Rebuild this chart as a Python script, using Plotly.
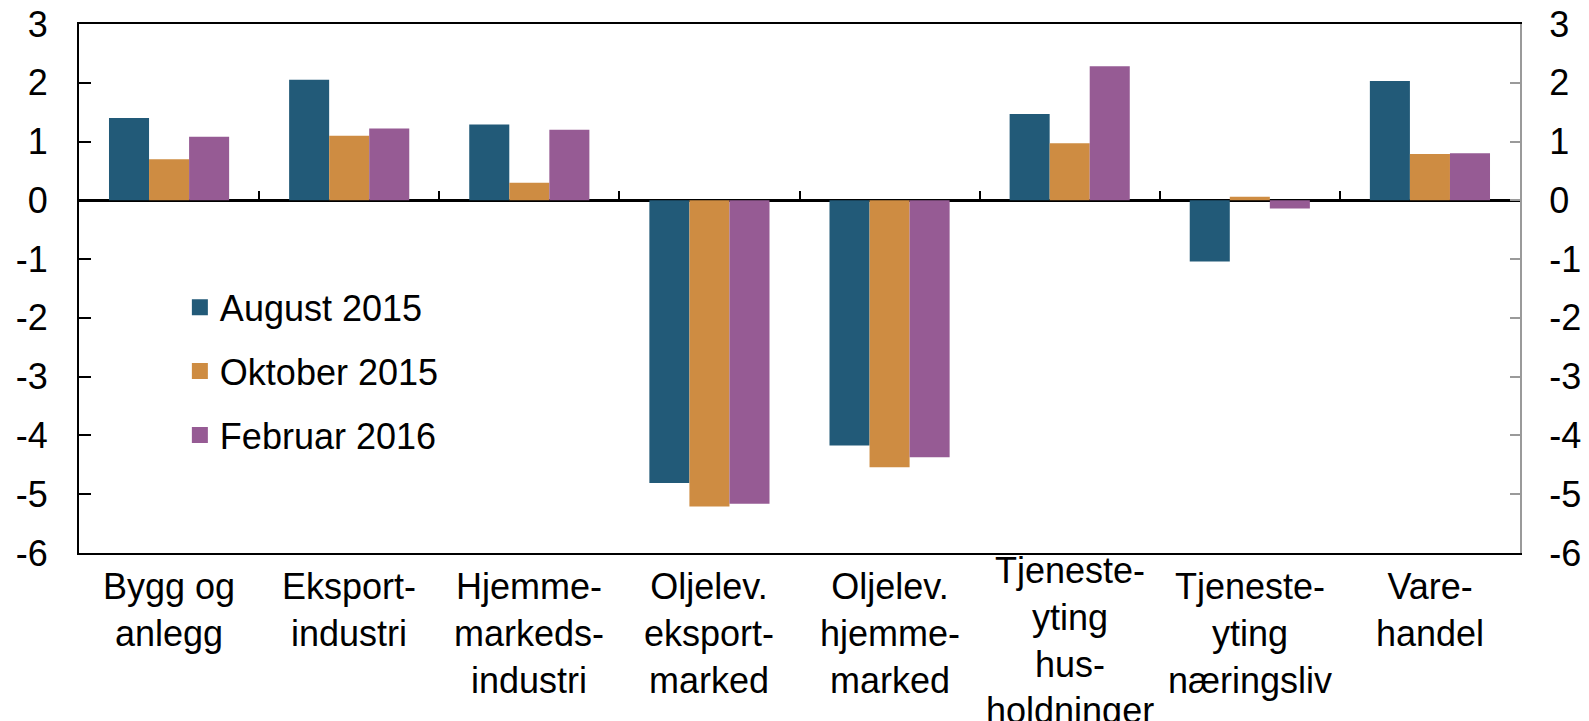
import plotly.graph_objects as go

categories = ["Bygg og<br>anlegg", "Eksport-<br>industri", "Hjemme-<br>markeds-<br>industri",
              "Oljelev.<br>eksport-<br>marked", "Oljelev.<br>hjemme-<br>marked",
              "Tjeneste-<br>yting<br>hus-<br>holdninger", "Tjeneste-<br>yting<br>næringsliv",
              "Vare-<br>handel"]
aug_2015 = [1.40, 2.05, 1.29, -4.81, -4.17, 1.47, -1.04, 2.03]
okt_2015 = [0.70, 1.10, 0.30, -5.21, -4.54, 0.97, 0.06, 0.79]
feb_2016 = [1.08, 1.22, 1.20, -5.16, -4.37, 2.28, -0.14, 0.80]
series_names = ["August 2015", "Oktober 2015", "Februar 2016"]
colors = ["#225A78", "#CE8C42", "#965B94"]
y_ticks = [3, 2, 1, 0, -1, -2, -3, -4, -5, -6]
y_tick_text = ["3", "2", "1", "0", "-1", "-2", "-3", "-4", "-5", "-6"]

fig = go.Figure()
for name, vals, c in zip(series_names, [aug_2015, okt_2015, feb_2016], colors):
    fig.add_trace(go.Bar(x=categories, y=vals, name=name, marker_color=c,
                         marker_line_width=0, showlegend=False))
for i, (name, c) in enumerate(zip(series_names, colors)):
    fig.add_trace(go.Scatter(x=[None], y=[None], mode="markers", name=name,
                             marker=dict(symbol="square", size=19, color=c),
                             legendgroup=f"g{i}"))
fig.add_trace(go.Scatter(x=[None], y=[None], xaxis="x2", yaxis="y2", showlegend=False,
                         hoverinfo="skip", mode="markers"))

font = "Liberation Sans, Arial, sans-serif"
FS = 36

# category labels as text below the plot (long labels are lifted, as in the original)
for cat in categories:
    n_lines = cat.count("<br>") + 1
    fig.add_annotation(x=cat, xref="x", y=0, yref="paper", yanchor="top",
                       text=cat, showarrow=False, font=dict(size=FS, family=font),
                       yshift=(-11 if n_lines < 4 else 5), align="center")

fig.update_layout(
    width=1581, height=713,
    margin=dict(l=71, r=69, t=16, b=168),
    plot_bgcolor="white", paper_bgcolor="white",
    barmode="group", bargap=0.333, bargroupgap=0,
    font=dict(family=font, color="black"),
    xaxis=dict(showline=True, linecolor="black", linewidth=2, mirror=True,
               ticks="", showticklabels=False, showgrid=False, automargin=False),
    xaxis2=dict(overlaying="x", anchor="free", position=2/3, range=[-0.5, 7.5],
                showline=False, ticks="inside", ticklen=9, tickwidth=2, tickcolor="black",
                tickvals=[0.5, 1.5, 2.5, 3.5, 4.5, 5.5, 6.5], showticklabels=False,
                showgrid=False, zeroline=False, automargin=False),
    yaxis=dict(range=[-6, 3], tickvals=y_ticks, ticktext=y_tick_text, ticks="inside",
               ticklen=12, tickwidth=2, tickcolor="black", showline=True, linecolor="black",
               linewidth=2, showgrid=False, zeroline=True, zerolinecolor="black",
               zerolinewidth=2.5, tickfont=dict(size=FS), automargin=False,
               ticklabelstandoff=22, ticklabeloverflow="allow"),
    yaxis2=dict(overlaying="y", side="right", range=[-6, 3], tickvals=y_ticks,
                ticktext=y_tick_text, ticks="inside", ticklen=10, tickwidth=2,
                tickcolor="#9a9a9a", showline=True, linecolor="#9a9a9a", linewidth=2,
                showgrid=False, zeroline=False, tickfont=dict(size=FS), anchor="x",
                automargin=False, ticklabelstandoff=20, ticklabeloverflow="allow"),
    legend=dict(x=0.07, y=0.521, xanchor="left", yanchor="top", traceorder="grouped",
                tracegroupgap=14, font=dict(size=FS), bgcolor="rgba(0,0,0,0)"),
)
fig.write_html("out.html")
